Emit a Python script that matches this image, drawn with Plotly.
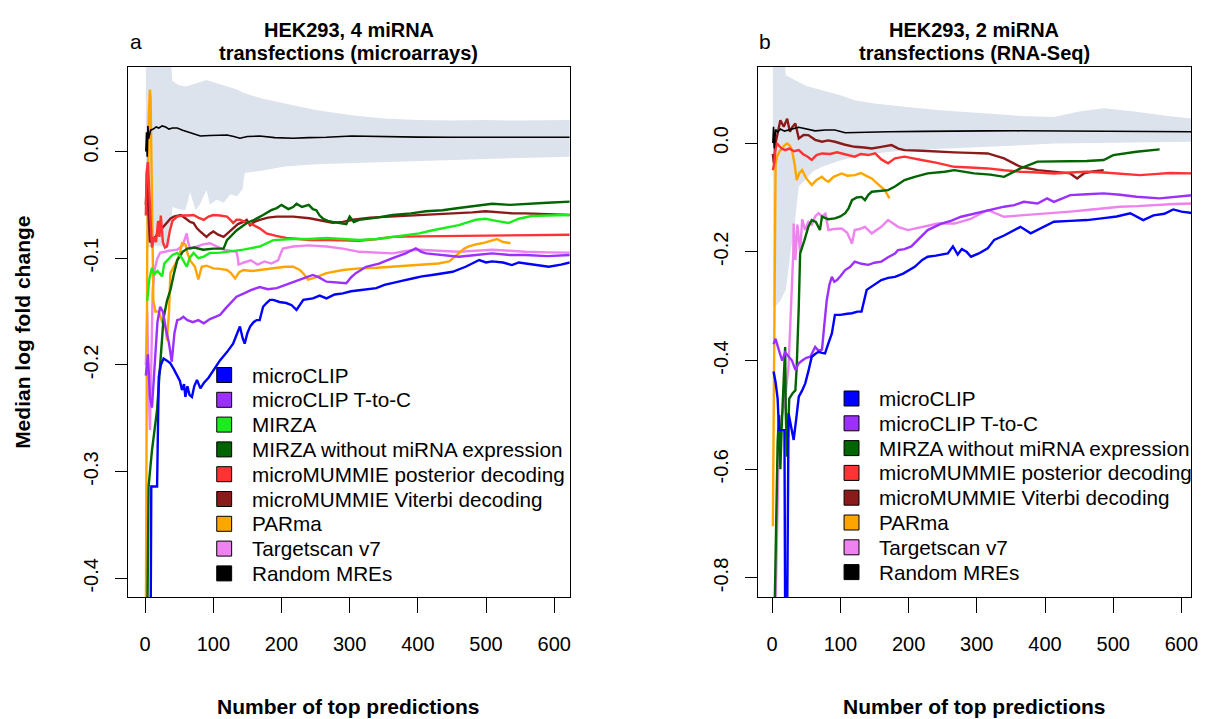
import plotly.graph_objects as go

W, H = 1207, 719

# ---------------- Panel a: HEK293, 4 miRNA transfections (microarrays) ----------------
A_RANDOM_X = [1, 2, 3, 4, 5, 8, 12, 16, 20, 25, 30, 35, 40, 47, 55, 61, 70, 81, 95, 110, 120, 130, 139,
              150, 168, 190, 217, 240, 266, 303, 350, 400, 449, 500, 550, 600, 623]
A_RANDOM_Y = [0.0, 0.018, -0.005, 0.024, 0.012, 0.020, 0.021, 0.023, 0.022, 0.024, 0.023, 0.021, 0.022,
              0.022, 0.020, 0.0186, 0.017, 0.0145, 0.015, 0.0155, 0.0155, 0.014, 0.0125, 0.014, 0.0145,
              0.013, 0.0124, 0.013, 0.0133, 0.0145, 0.0138, 0.0135, 0.0133, 0.013, 0.0133, 0.0133, 0.0133]

A_BAND_UP_X = [1, 5, 36, 40, 50, 60, 75, 90, 105, 120, 135, 144, 170, 205, 250, 303, 350, 400, 450, 497, 550, 623]
A_BAND_UP_Y = [0.1, 0.1, 0.1, 0.066, 0.062, 0.061, 0.064, 0.067, 0.064, 0.061, 0.058, 0.055, 0.05, 0.045,
               0.039, 0.034, 0.031, 0.0295, 0.029, 0.0295, 0.029, 0.0295]
A_BAND_LO_X = [1, 5, 15, 25, 36, 40, 50, 59, 66, 74, 80, 90, 95, 105, 115, 125, 135, 143, 146, 170, 205,
               250, 303, 350, 400, 449, 500, 550, 623]
A_BAND_LO_Y = [-0.09, -0.09, -0.088, -0.089, -0.088, -0.052, -0.054, -0.055, -0.038, -0.055, -0.05,
               -0.036, -0.05, -0.045, -0.048, -0.04, -0.042, -0.035, -0.02, -0.018, -0.014, -0.012,
               -0.011, -0.01, -0.009, -0.008, -0.007, -0.006, -0.005]

A_MICROCLIP_X = [8, 9, 13, 17.5, 19, 20, 23, 27, 32, 37, 42, 47, 51, 54, 57, 59, 62, 65, 68.6, 72, 76, 81,
                 86, 93, 100, 105, 110, 120, 129, 134, 139, 143, 146, 150, 154, 159, 163.5, 168, 173, 178,
                 183, 188, 197, 207, 215, 222, 232, 246, 256, 266, 278, 290, 302, 314, 326, 339, 351, 363,
                 378, 392, 406, 421, 436, 451, 470, 480, 490, 500, 509, 525, 538, 548, 558, 575, 592, 610, 623]
A_MICROCLIP_Y = [-0.45, -0.314, -0.314, -0.314, -0.25, -0.211, -0.2, -0.194, -0.196, -0.1985, -0.204,
                 -0.2095, -0.215, -0.2235, -0.218, -0.23, -0.22, -0.228, -0.23, -0.22, -0.214, -0.222,
                 -0.217, -0.212, -0.205, -0.2, -0.1955, -0.188, -0.18, -0.172, -0.164, -0.175, -0.18,
                 -0.17, -0.164, -0.16, -0.158, -0.158, -0.1455, -0.142, -0.139, -0.139, -0.141, -0.142,
                 -0.144, -0.1485, -0.139, -0.1376, -0.135, -0.1376, -0.134, -0.133, -0.131, -0.130,
                 -0.129, -0.128, -0.125, -0.1235, -0.121, -0.119, -0.117, -0.1157, -0.114, -0.1127,
                 -0.108, -0.105, -0.1017, -0.104, -0.103, -0.104, -0.1064, -0.104, -0.105, -0.107, -0.108,
                 -0.106, -0.104]

A_TTOC_X = [1, 4, 7, 10, 14, 18, 22, 26, 30, 35, 39, 43, 47, 52, 56, 62, 70, 78, 86, 95, 103, 110, 118,
            125, 134, 145, 155, 168, 180, 193, 205, 217, 232, 246, 255, 266, 280, 295, 302, 309, 324, 343,
            363, 382, 397, 405, 412, 436, 460, 485, 509, 535, 558, 590, 623]
A_TTOC_Y = [-0.21, -0.19, -0.23, -0.24, -0.2, -0.16, -0.1455, -0.15, -0.165, -0.18, -0.197, -0.17, -0.158,
            -0.157, -0.155, -0.158, -0.16, -0.158, -0.161, -0.157, -0.155, -0.153, -0.147, -0.142, -0.136,
            -0.133, -0.13, -0.127, -0.129, -0.128, -0.125, -0.122, -0.119, -0.1157, -0.118, -0.122, -0.123,
            -0.1235, -0.118, -0.114, -0.108, -0.105, -0.100, -0.0955, -0.0907, -0.094, -0.0955, -0.097,
            -0.0986, -0.097, -0.0955, -0.097, -0.097, -0.098, -0.097]

A_MIRZA_X = [3, 6, 10, 13, 18, 25, 28, 32, 40, 47, 54, 61, 66, 71, 78, 86, 95, 108, 120, 144, 168, 188,
             217, 240, 266, 290, 314, 340, 363, 385, 402, 420, 436, 460, 485, 499, 515, 533, 548, 567, 590, 623]
A_MIRZA_Y = [-0.14, -0.12, -0.109, -0.115, -0.112, -0.117, -0.105, -0.102, -0.097, -0.095, -0.1, -0.108,
             -0.099, -0.095, -0.1, -0.0985, -0.095, -0.095, -0.094, -0.092, -0.089, -0.083, -0.082, -0.082,
             -0.081, -0.082, -0.083, -0.082, -0.080, -0.078, -0.0767, -0.074, -0.072, -0.069, -0.064,
             -0.063, -0.065, -0.067, -0.063, -0.0605, -0.06, -0.0595]

A_MIRZA_NOEXP_X = [3, 5, 10, 17.5, 22, 27, 32, 37, 42, 47, 55, 62, 72, 85, 100, 115, 120, 134, 149, 160,
                   173, 185, 193, 200, 210, 217, 222, 230, 240, 246, 251, 256, 261, 268, 275, 285, 295, 300,
                   306, 314, 340, 363, 390, 412, 436, 460, 485, 509, 535, 558, 590, 623]
A_MIRZA_NOEXP_Y = [-0.45, -0.314, -0.28, -0.242, -0.2, -0.156, -0.14, -0.13, -0.115, -0.102, -0.094,
                   -0.091, -0.09, -0.092, -0.091, -0.091, -0.083, -0.074, -0.067, -0.064, -0.0595, -0.055,
                   -0.053, -0.05, -0.054, -0.052, -0.049, -0.052, -0.05, -0.054, -0.055, -0.06, -0.063,
                   -0.065, -0.066, -0.067, -0.068, -0.061, -0.066, -0.064, -0.062, -0.0595, -0.058, -0.056,
                   -0.055, -0.053, -0.051, -0.049, -0.05, -0.049, -0.048, -0.047]

A_POSTERIOR_X = [1, 2, 4, 6, 8, 10, 13, 16, 19, 21, 23, 26, 29, 32, 36, 40, 47, 55, 63, 71, 78, 86, 93,
                 100, 110, 120, 125, 129, 134, 139, 150, 159, 168, 178, 192, 207, 225, 241, 270, 314, 340,
                 363, 400, 460, 510, 558, 623]
A_POSTERIOR_Y = [-0.06, -0.02, -0.01, -0.04, -0.07, -0.09, -0.08, -0.085, -0.065, -0.08, -0.06, -0.085,
                 -0.09, -0.089, -0.075, -0.065, -0.061, -0.06, -0.06, -0.0595, -0.062, -0.064, -0.061,
                 -0.0595, -0.06, -0.061, -0.064, -0.067, -0.064, -0.064, -0.067, -0.069, -0.072, -0.0767,
                 -0.079, -0.081, -0.082, -0.083, -0.083, -0.0836, -0.082, -0.080, -0.0795, -0.079, -0.0785,
                 -0.078, -0.078]

A_VITERBI_X = [1, 3, 5, 7, 10, 15, 22, 30, 37, 42, 47, 52, 60, 66, 71, 76, 81, 86, 90, 95, 100, 107, 115,
               122, 129, 136, 144, 149, 154, 160, 168, 180, 193, 217, 241, 260, 275, 290, 305, 330, 363, 390,
               412, 436, 460, 480, 499, 520, 540, 558, 590, 623]
A_VITERBI_Y = [-0.05, -0.02, -0.06, -0.085, -0.083, -0.08, -0.074, -0.068, -0.063, -0.061, -0.06, -0.0595,
               -0.063, -0.066, -0.067, -0.072, -0.075, -0.078, -0.080, -0.077, -0.075, -0.078, -0.080,
               -0.076, -0.072, -0.068, -0.066, -0.064, -0.069, -0.066, -0.064, -0.062, -0.061, -0.061,
               -0.0626, -0.065, -0.0667, -0.066, -0.064, -0.062, -0.061, -0.060, -0.0595, -0.059, -0.058,
               -0.057, -0.056, -0.057, -0.058, -0.058, -0.059, -0.0595]

A_PARMA_X = [1, 3, 5, 7, 8, 10, 12, 15, 20, 25, 30, 32, 35, 37, 42, 47, 51, 54, 59, 62, 66, 70, 73, 78, 83,
             90, 100, 110, 120, 126, 132, 138, 144, 156, 168, 180, 193, 205, 217, 227, 233, 239, 250, 266,
             290, 314, 340, 363, 390, 412, 430, 446, 453, 460, 468, 475, 485, 494, 509, 516, 524, 530, 536]
A_PARMA_Y = [-0.45, -0.1, 0.03, 0.058, 0.05, -0.05, -0.14, -0.15, -0.15, -0.16, -0.165, -0.177, -0.15,
             -0.114, -0.108, -0.102, -0.095, -0.086, -0.087, -0.095, -0.102, -0.105, -0.108, -0.120, -0.108,
             -0.107, -0.1095, -0.11, -0.111, -0.114, -0.119, -0.113, -0.111, -0.112, -0.111, -0.110,
             -0.1095, -0.108, -0.108, -0.111, -0.115, -0.120, -0.118, -0.114, -0.111, -0.1095, -0.109,
             -0.108, -0.107, -0.106, -0.105, -0.103, -0.099, -0.0955, -0.091, -0.089, -0.087, -0.086,
             -0.083, -0.082, -0.0846, -0.085, -0.086]

A_TARGETSCAN_X = [1, 3, 5, 7, 9, 11, 14, 18, 22, 27, 35, 47, 55, 61, 63, 66, 75, 85, 95, 105, 115, 125,
                  134, 136, 137, 145, 155, 165, 175, 185, 195, 198, 202, 217, 240, 266, 290, 314, 340, 363,
                  385, 402, 430, 460, 485, 509, 535, 558, 590, 623]
A_TARGETSCAN_Y = [-0.2, -0.15, -0.22, -0.261, -0.2, -0.13, -0.11, -0.1, -0.095, -0.094, -0.093, -0.092,
                  -0.088, -0.0767, -0.085, -0.091, -0.089, -0.087, -0.086, -0.089, -0.092, -0.093, -0.094,
                  -0.1, -0.106, -0.104, -0.102, -0.106, -0.103, -0.105, -0.102, -0.097, -0.091, -0.089,
                  -0.088, -0.089, -0.091, -0.094, -0.095, -0.0955, -0.093, -0.092, -0.093, -0.094, -0.093,
                  -0.092, -0.093, -0.094, -0.0945, -0.0948]

# ---------------- Panel b: HEK293, 2 miRNA transfections (RNA-Seq) ----------------
B_RANDOM_X = [1, 2, 3, 5, 8, 12, 18, 25, 32, 39, 50, 63, 78, 92, 107, 130, 170, 220, 267, 316, 364, 413,
              461, 510, 560, 617]
B_RANDOM_Y = [0.0, 0.03, -0.01, 0.025, 0.02, 0.026, 0.022, 0.025, 0.027, 0.029, 0.026, 0.0226, 0.024,
              0.024, 0.019, 0.02, 0.0208, 0.0215, 0.0226, 0.0225, 0.0226, 0.0224, 0.022, 0.0215, 0.021, 0.0208]

B_BAND_UP_X = [1, 15, 20, 35, 50, 73, 100, 121, 150, 194, 250, 316, 364, 413, 450, 486, 534, 580, 617]
B_BAND_UP_Y = [0.2, 0.2, 0.125, 0.115, 0.105, 0.097, 0.088, 0.079, 0.073, 0.067, 0.06, 0.0546, 0.05,
               0.048, 0.058, 0.064, 0.0576, 0.05, 0.045]
B_BAND_LO_X = [1, 5, 12, 20, 27, 32, 39, 50, 60, 73, 100, 121, 150, 194, 250, 316, 364, 413, 500, 617]
B_BAND_LO_Y = [-0.3, -0.3, -0.29, -0.27, -0.2, -0.16, -0.08, -0.065, -0.052, -0.0436, -0.032, -0.025,
               -0.019, -0.013, -0.01, -0.0068, -0.004, -0.0006, 0.001, 0.0024]

B_MICROCLIP_X = [2, 5, 8, 10, 15, 18, 19, 22, 24, 28, 31.5, 35, 39, 44, 48.5, 53, 58, 63, 68, 73, 77.5, 82,
                 87.5, 92, 100, 110, 117, 125, 131, 138.5, 150, 160, 170, 180, 192, 204, 209, 220, 228, 240,
                 257.5, 265, 272, 278, 285, 291.5, 303, 316, 325.5, 340, 364, 379, 398, 413, 437, 461.5, 486,
                 505, 525, 544, 559, 575, 588, 600, 617]
B_MICROCLIP_Y = [-0.42, -0.44, -0.47, -0.528, -0.528, -0.528, -0.87, -0.87, -0.497, -0.52, -0.546, -0.51,
                 -0.4666, -0.455, -0.442, -0.42, -0.393, -0.388, -0.384, -0.386, -0.387, -0.37, -0.35, -0.316,
                 -0.316, -0.314, -0.313, -0.31, -0.31, -0.27, -0.26, -0.252, -0.248, -0.246, -0.24, -0.2305,
                 -0.2275, -0.215, -0.209, -0.207, -0.203, -0.19, -0.205, -0.195, -0.2, -0.209, -0.203,
                 -0.1937, -0.178, -0.17, -0.154, -0.166, -0.154, -0.1447, -0.143, -0.1416, -0.138, -0.135,
                 -0.129, -0.1416, -0.133, -0.13, -0.122, -0.126, -0.129]

B_TTOC_X = [2, 5, 9.6, 14.6, 19, 24, 29, 34, 39, 44, 50, 56, 63, 68, 73, 76, 80, 84, 87.5, 91, 95, 100, 107,
            114, 121, 131, 141, 150, 160, 170, 180, 184.5, 194, 204, 216, 228, 248, 262, 277, 296, 316, 340,
            355, 369, 389, 403, 413, 437, 461, 486, 510, 534, 568, 590, 617]
B_TTOC_Y = [-0.37, -0.36, -0.38, -0.40, -0.385, -0.393, -0.4, -0.417, -0.405, -0.40, -0.395, -0.393, -0.375,
            -0.382, -0.38, -0.34, -0.289, -0.26, -0.246, -0.255, -0.252, -0.245, -0.2335, -0.228, -0.218,
            -0.222, -0.224, -0.22, -0.218, -0.21, -0.203, -0.197, -0.195, -0.19, -0.175, -0.16, -0.148,
            -0.143, -0.1355, -0.13, -0.123, -0.117, -0.114, -0.108, -0.111, -0.1017, -0.108, -0.0956,
            -0.094, -0.0925, -0.095, -0.0987, -0.1017, -0.099, -0.0956]

B_MIRZA_NOEXP_X = [3, 6, 8, 10, 12, 14, 16, 19, 20, 22, 25, 30, 34, 36, 39, 41, 47, 53, 58, 64, 70, 73, 82,
                   92, 100, 107, 112, 117, 124, 131, 136, 141, 146, 160, 170, 180, 194, 209, 228, 253, 267,
                   296, 320, 340, 352, 364, 389, 413, 437, 461, 486, 500, 534, 568]
B_MIRZA_NOEXP_Y = [-0.9, -0.7, -0.55, -0.5, -0.6, -0.52, -0.45, -0.375, -0.5, -0.577, -0.47, -0.46,
                   -0.455, -0.411, -0.3, -0.203, -0.18, -0.154, -0.1416, -0.145, -0.16, -0.1355, -0.14,
                   -0.1385, -0.135, -0.129, -0.12, -0.105, -0.1, -0.099, -0.105, -0.095, -0.0895, -0.088,
                   -0.0864, -0.080, -0.068, -0.062, -0.0558, -0.0527, -0.0497, -0.0558, -0.058, -0.062,
                   -0.055, -0.0466, -0.034, -0.034, -0.034, -0.033, -0.031, -0.022, -0.016, -0.0116]

B_POSTERIOR_X = [1, 3, 5, 7, 10, 14, 19, 25, 32, 39, 45, 52, 58, 65, 73, 85, 95, 102, 112, 121, 130, 141,
                 151, 160, 170, 180, 194, 205, 219, 240, 267, 290, 316, 340, 364, 390, 413, 437, 461.5, 486,
                 510, 539, 560, 583, 617]
B_POSTERIOR_Y = [-0.05, -0.037, -0.01, 0.0, -0.005, -0.01, -0.0129, -0.01, -0.015, -0.0129, -0.02, -0.025,
                 -0.031, -0.022, -0.019, -0.02, -0.017, -0.019, -0.022, -0.025, -0.02, -0.022, -0.019,
                 -0.03, -0.037, -0.028, -0.025, -0.028, -0.031, -0.036, -0.0436, -0.045, -0.0466, -0.05,
                 -0.0527, -0.054, -0.0558, -0.054, -0.0527, -0.054, -0.0558, -0.0589, -0.057, -0.055, -0.0558]

B_VITERBI_X = [1, 2.4, 5, 8, 12, 17, 22, 26, 30, 34, 39, 46, 53, 63, 73, 82, 92, 107, 121, 135, 146, 160,
               170, 175, 185, 194, 220, 243, 267, 290, 316, 340, 352, 364, 389, 413, 437, 447, 457, 470, 481, 486]
B_VITERBI_Y = [-0.02, -0.037, 0.0, 0.02, 0.042, 0.030, 0.045, 0.021, 0.03, 0.036, 0.0086, 0.015, 0.0147,
               0.006, 0.0025, 0.005, 0.0025, -0.003, -0.0068, -0.008, -0.0098, -0.007, -0.004, -0.0037,
               -0.01, -0.0129, -0.014, -0.016, -0.017, -0.018, -0.019, -0.028, -0.036, -0.0436, -0.0497,
               -0.0527, -0.0558, -0.065, -0.0558, -0.052, -0.0497, -0.05]

B_PARMA_X = [1, 3, 5, 7, 11, 14.6, 18, 22, 26, 29, 33, 36, 40, 44, 50, 58, 65, 73, 78, 82.5, 90, 102, 110,
             121, 130, 141, 146, 151, 158, 165, 172]
B_PARMA_Y = [-0.705, -0.3, -0.04, -0.025, -0.015, -0.0098, -0.004, -0.0006, -0.005, -0.0129, -0.04,
             -0.068, -0.055, -0.0497, -0.065, -0.077, -0.068, -0.062, -0.068, -0.071, -0.062, -0.0558,
             -0.06, -0.0589, -0.055, -0.062, -0.065, -0.071, -0.078, -0.0864, -0.1017]

B_TARGETSCAN_X = [5, 9, 12, 18, 24, 28, 31, 31.5, 34, 37, 41, 44, 48, 53, 58, 63, 68, 73, 78, 82.5, 90,
                  102, 110, 117, 121, 128, 136, 146, 153, 160, 170, 184.5, 199, 219, 243, 267, 290, 316,
                  340, 364, 390, 413, 437, 461.5, 486, 510, 535, 559, 590, 617]
B_TARGETSCAN_Y = [-0.85, -0.6, -0.515, -0.48, -0.41, -0.3, -0.2, -0.148, -0.215, -0.15, -0.2, -0.14,
                  -0.16, -0.145, -0.15, -0.135, -0.129, -0.135, -0.13, -0.16, -0.158, -0.157, -0.165,
                  -0.1845, -0.16, -0.158, -0.154, -0.166, -0.16, -0.154, -0.1416, -0.154, -0.16, -0.154,
                  -0.148, -0.148, -0.14, -0.123, -0.1355, -0.133, -0.131, -0.129, -0.126, -0.123, -0.12,
                  -0.117, -0.116, -0.114, -0.112, -0.111]

# ---------------- Styling ----------------
COL_MICROCLIP = "#0000ff"
COL_TTOC = "#9b30ff"
COL_MIRZA = "#1aee1a"
COL_MIRZA_NOEXP = "#006400"
COL_POSTERIOR = "#ff3333"
COL_VITERBI = "#8b1a1a"
COL_PARMA = "#ffa500"
COL_TARGETSCAN = "#ee82ee"
COL_RANDOM = "#000000"
COL_BAND = "#dce3ec"

FONT = "Liberation Sans, Arial, Helvetica, sans-serif"

LEGEND_A = [("microCLIP", COL_MICROCLIP), ("microCLIP T-to-C", COL_TTOC), ("MIRZA", COL_MIRZA),
            ("MIRZA without miRNA expression", COL_MIRZA_NOEXP),
            ("microMUMMIE posterior decoding", COL_POSTERIOR),
            ("microMUMMIE Viterbi decoding", COL_VITERBI), ("PARma", COL_PARMA),
            ("Targetscan v7", COL_TARGETSCAN), ("Random MREs", COL_RANDOM)]
LEGEND_B = [item for item in LEGEND_A if item[0] != "MIRZA"]

X_TICKS = [0, 100, 200, 300, 400, 500, 600]
A_Y_TICKS = [0.0, -0.1, -0.2, -0.3, -0.4]
A_Y_TICKTEXT = ["0.0", "-0.1", "-0.2", "-0.3", "-0.4"]
B_Y_TICKS = [0.0, -0.2, -0.4, -0.6, -0.8]
B_Y_TICKTEXT = ["0.0", "-0.2", "-0.4", "-0.6", "-0.8"]

fig = go.Figure()


def band(xu, yu, xl, yl, xa, ya):
    fig.add_trace(go.Scatter(
        x=list(xu) + list(xl)[::-1], y=list(yu) + list(yl)[::-1],
        mode="lines", fill="toself", fillcolor=COL_BAND, line=dict(width=0, color=COL_BAND),
        xaxis=xa, yaxis=ya, showlegend=False, hoverinfo="skip"))


def line(x, y, color, xa, ya, width=2.4):
    fig.add_trace(go.Scatter(
        x=x, y=y, mode="lines", line=dict(color=color, width=width),
        xaxis=xa, yaxis=ya, showlegend=False, hoverinfo="skip"))


band(A_BAND_UP_X, A_BAND_UP_Y, A_BAND_LO_X, A_BAND_LO_Y, "x", "y")
line(A_TARGETSCAN_X, A_TARGETSCAN_Y, COL_TARGETSCAN, "x", "y")
line(A_PARMA_X, A_PARMA_Y, COL_PARMA, "x", "y")
line(A_VITERBI_X, A_VITERBI_Y, COL_VITERBI, "x", "y")
line(A_POSTERIOR_X, A_POSTERIOR_Y, COL_POSTERIOR, "x", "y")
line(A_MIRZA_NOEXP_X, A_MIRZA_NOEXP_Y, COL_MIRZA_NOEXP, "x", "y")
line(A_MIRZA_X, A_MIRZA_Y, COL_MIRZA, "x", "y")
line(A_TTOC_X, A_TTOC_Y, COL_TTOC, "x", "y")
line(A_MICROCLIP_X, A_MICROCLIP_Y, COL_MICROCLIP, "x", "y")
line(A_RANDOM_X, A_RANDOM_Y, COL_RANDOM, "x", "y", width=1.6)

band(B_BAND_UP_X, B_BAND_UP_Y, B_BAND_LO_X, B_BAND_LO_Y, "x2", "y2")
line(B_TARGETSCAN_X, B_TARGETSCAN_Y, COL_TARGETSCAN, "x2", "y2")
line(B_PARMA_X, B_PARMA_Y, COL_PARMA, "x2", "y2")
line(B_VITERBI_X, B_VITERBI_Y, COL_VITERBI, "x2", "y2")
line(B_POSTERIOR_X, B_POSTERIOR_Y, COL_POSTERIOR, "x2", "y2")
line(B_MIRZA_NOEXP_X, B_MIRZA_NOEXP_Y, COL_MIRZA_NOEXP, "x2", "y2")
line(B_TTOC_X, B_TTOC_Y, COL_TTOC, "x2", "y2")
line(B_MICROCLIP_X, B_MICROCLIP_Y, COL_MICROCLIP, "x2", "y2")
line(B_RANDOM_X, B_RANDOM_Y, COL_RANDOM, "x2", "y2", width=1.6)


def px(xp):
    return xp / W


def py(yp):
    return 1 - yp / H


PLOT_TOP, PLOT_BOTTOM = 67, 597
A_LEFT, A_RIGHT = 129, 573
B_LEFT, B_RIGHT = 762, 1198

axis_common = dict(showline=True, mirror=True, linecolor="black", linewidth=1, ticks="outside",
                   tickcolor="black", tickwidth=1, showgrid=False, zeroline=False,
                   tickfont=dict(family=FONT, size=20, color="black"))

fig.update_layout(
    width=W, height=H, margin=dict(l=0, r=0, t=0, b=0),
    paper_bgcolor="white", plot_bgcolor="white", showlegend=False,
    xaxis=dict(domain=[px(A_LEFT), px(A_RIGHT)], range=[-24.8, 622.7], anchor="y",
               tickvals=X_TICKS, ticklen=15, ticklabelstandoff=14, **axis_common),
    yaxis=dict(domain=[py(PLOT_BOTTOM), py(PLOT_TOP)], range=[-0.4175, 0.0792], anchor="x",
               tickvals=A_Y_TICKS, ticktext=A_Y_TICKTEXT, tickangle=-90, ticklen=12,
               ticklabelstandoff=9, **axis_common),
    xaxis2=dict(domain=[px(B_LEFT), px(B_RIGHT)], range=[-21.4, 614.1], anchor="y2",
                tickvals=X_TICKS, ticklen=15, ticklabelstandoff=14, **axis_common),
    yaxis2=dict(domain=[py(PLOT_BOTTOM), py(PLOT_TOP)], range=[-0.835, 0.14], anchor="x2",
                tickvals=B_Y_TICKS, ticktext=B_Y_TICKTEXT, tickangle=-90, ticklen=12,
                ticklabelstandoff=9, **axis_common),
)

annotations = []
shapes = []


def text(xp, yp, s, size=20, bold=False, xanchor="center", angle=0):
    annotations.append(dict(
        x=px(xp), y=py(yp), xref="paper", yref="paper", text=f"<b>{s}</b>" if bold else s,
        showarrow=False, xanchor=xanchor, yanchor="middle", textangle=angle,
        font=dict(family=FONT, size=size, color="black")))


# panel titles and letters
text(351, 30, "HEK293, 4 miRNA", bold=True)
text(351, 53, "transfections (microarrays)", bold=True)
text(980, 30, "HEK293, 2 miRNA", bold=True)
text(980, 53, "transfections (RNA-Seq)", bold=True)
text(137, 42, "a", size=21)
text(769, 42, "b", size=21)

# axis titles
text(22, 332, "Median log fold change", size=21, bold=True, angle=-90)
text(351, 706, "Number of top predictions", size=21, bold=True)
text(980, 706, "Number of top predictions", size=21, bold=True)


def legend(items, box_left, text_left, first_row, step=24.8):
    for i, (name, color) in enumerate(items):
        yc = first_row + i * step
        shapes.append(dict(type="rect", xref="paper", yref="paper",
                           x0=px(box_left), x1=px(box_left + 15), y0=py(yc + 7.5), y1=py(yc - 7.5),
                           fillcolor=color, line=dict(color="black", width=1)))
        text(text_left, yc, name, size=20.7, xanchor="left")


legend(LEGEND_A, 218, 251, 375)
legend(LEGEND_B, 849, 882, 398.5)

fig.update_layout(annotations=annotations, shapes=shapes)
fig.write_html("out.html")
